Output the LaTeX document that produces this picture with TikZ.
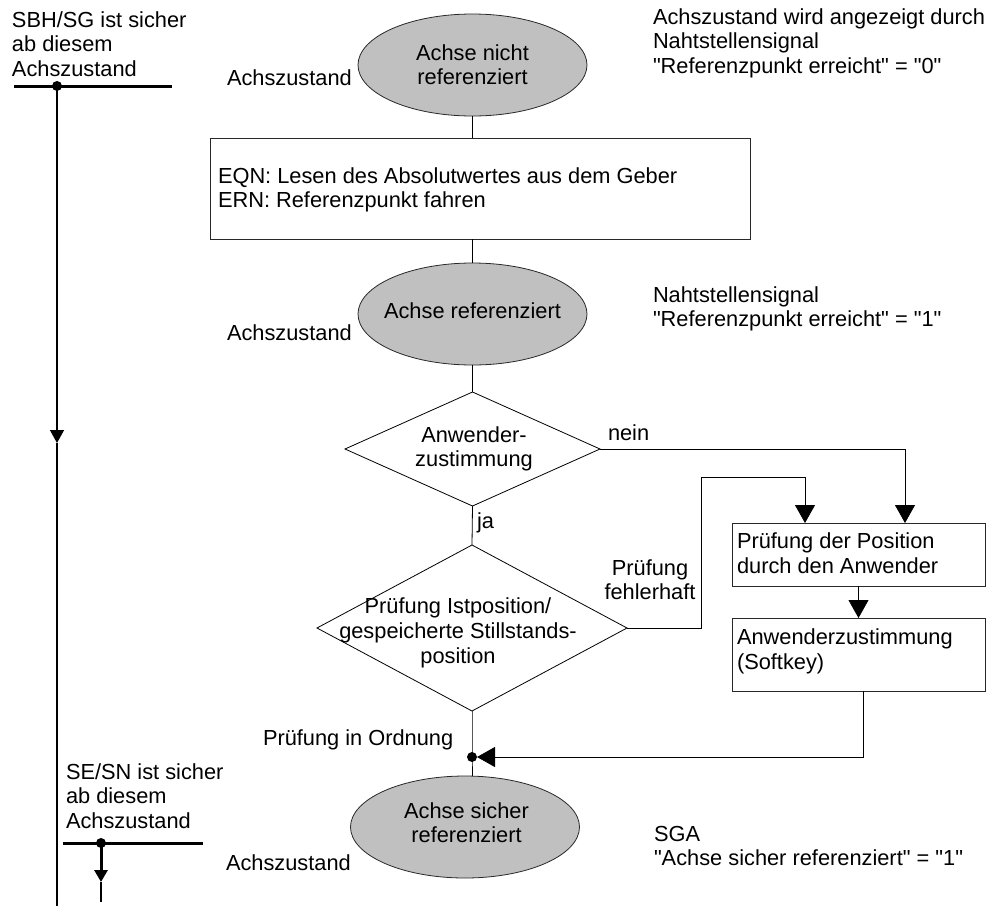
\documentclass[tikz,border=0pt]{standalone}
\usepackage{fontspec}
\setmainfont{Liberation Sans}
% same face without the TeX ligature mapping, for straight quotes
\newfontfamily\plainface{Liberation Sans}
\usetikzlibrary{shapes.geometric,arrows.meta}
\definecolor{stategray}{RGB}{192,192,192}
\definecolor{linegray}{RGB}{40,40,40}
\newcommand{\qmark}{{\plainface\symbol{34}}}

\begin{document}
\begin{tikzpicture}[x=1pt,y=-1pt,
  every node/.style={inner sep=0pt, outer sep=0pt},
  lbl/.style={font=\fontsize{21.8}{24.5}\selectfont, align=left, anchor=base west},
  clbl/.style={font=\fontsize{21.8}{24.5}\selectfont, align=center},
  state/.style={ellipse, draw=linegray, line width=0.8pt, fill=stategray,
                minimum width=229pt, minimum height=102pt},
  decision/.style={diamond, draw=black, line width=0.8pt},
  flowbox/.style={rectangle, draw=linegray, line width=1pt},
  flow/.style={draw=black, line width=0.8pt},
  arr/.style={flow, -{Triangle[length=18pt,width=20pt]}},
  blob/.style={circle, fill=black, minimum size=10pt},
  rail/.style={draw=black, line width=3pt},
  axis/.style={draw=black, line width=1.4pt},
]
\useasboundingbox (0,0) rectangle (988,906);

% --- axis states ---
\node[state] (s1) at (472.5,65) {};
\node[clbl] (s1t) at (472.5,64.5) {Achse nicht\\referenziert};
\node[state] (s2) at (472.5,314) {};
\node[clbl] (s2t) at (472.5,310.3) {Achse referenziert};
\node[state] (s3) at (465,827) {};
\node[clbl] (s3t) at (466.5,822.5) {Achse sicher\\referenziert};

% --- process boxes (base anchor = last text line) ---
\node[flowbox, minimum width=540pt, minimum height=101pt] (b1) at (480,188.5) {};
\node[lbl] (b1t) at (218,207.5) {EQN: Lesen des Absolutwertes aus dem Geber\\ERN: Referenzpunkt fahren};
\node[flowbox, minimum width=253pt, minimum height=63pt] (b2) at (858.5,554.5) {};
\node[lbl] (b2t) at (737,573) {Prüfung der Position\\durch den Anwender};
\node[flowbox, minimum width=253pt, minimum height=73pt] (b3) at (858.5,654.5) {};
\node[lbl] (b3t) at (737,669) {Anwenderzustimmung\\(Softkey)};

% --- decisions ---
\node[decision, minimum width=255pt, minimum height=114pt] (d1) at (472.5,449) {};
\node[clbl] (d1t) at (474,449) {Anwender-\\zustimmung};
\node[decision, minimum width=310pt, minimum height=166pt] (d2) at (472,628) {};
\node[clbl, font=\fontsize{21.8}{25}\selectfont] (d2t) at (458,632.5) {Prüfung Istposition/\\gespeicherte Stillstands-\\position};

% --- merge point ---
\node[blob] (mdot) at (472,757) {};

% --- side labels ---
\node[lbl] (z1) at (227,85) {Achszustand};
\node[lbl] (z2) at (227,340) {Achszustand};
\node[lbl] (z3) at (226,870) {Achszustand};
\node[lbl] (sig0) at (653,73) {Achszustand wird angezeigt durch\\Nahtstellensignal\\\qmark Referenzpunkt erreicht\qmark{} = \qmark 0\qmark};
\node[lbl] (sig1) at (653,326.5) {Nahtstellensignal\\\qmark Referenzpunkt erreicht\qmark{} = \qmark 1\qmark};
\node[lbl] (sga) at (654,865.5) {SGA\\\qmark Achse sicher referenziert\qmark{} = \qmark 1\qmark};
\node[lbl] (nein) at (608,440) {nein};
\node[lbl] (ja) at (477,528) {ja};
\node[clbl, anchor=base] (fehl) at (650,599.5) {Prüfung\\fehlerhaft};
\node[lbl] (ok) at (263,745) {Prüfung in Ordnung};
\node[lbl] (sbh) at (12,76) {SBH/SG ist sicher\\ab diesem\\Achszustand};
\node[lbl] (sesn) at (66,828) {SE/SN ist sicher\\ab diesem\\Achszustand};

% --- main flow ---
\draw[flow] (s1.south) -- (s1.south |- b1.north);
\draw[flow] (s2.north |- b1.south) -- (s2.north);
\draw[flow] (s2.south) -- (d1.north);
\draw[flow] (d1.south) -- (d2.north);
\draw[flow] (d2.south) -- (mdot.center) -- (mdot |- s3.north);

% branch "nein"
\coordinate (neinin) at (905,523);
\draw[arr] (d1.east) -| (neinin);
% branch "fehlerhaft"
\coordinate (fbend) at (701,477);
\coordinate (fin) at (805,523);
\draw[flow] (d2.east) -| (fbend);
\draw[arr] (fbend) -| (fin);
% user check
\draw[arr] (b2.south) -- (b3.north);
\coordinate (b3out) at (863,691);
\draw[arr] (b3out) |- (mdot.east);

% --- safety rails on the left ---
\coordinate (railAw) at (14,86);
\coordinate (railAe) at (172,86);
\draw[rail] (railAw) -- (railAe);
\node[blob] (railAdot) at (57,86) {};
\coordinate (axisArrow) at (57,443);
\coordinate (axisEnd) at (57,906);
\draw[axis, -{Triangle[length=13pt,width=14pt]}] (railAdot.center) -- (axisArrow);
\draw[axis] (axisArrow) -- (axisEnd);

\coordinate (railBw) at (63,843);
\coordinate (railBe) at (203,843);
\draw[rail] (railBw) -- (railBe);
\node[blob] (railBdot) at (101,843) {};
\coordinate (railBarrow) at (101,882);
\coordinate (railBend) at (101,902);
\draw[rail, -{Triangle[length=12pt,width=13pt]}] (railBdot.center) -- (railBarrow);
\draw[axis] (railBarrow) -- (railBend);
\end{tikzpicture}
\end{document}
